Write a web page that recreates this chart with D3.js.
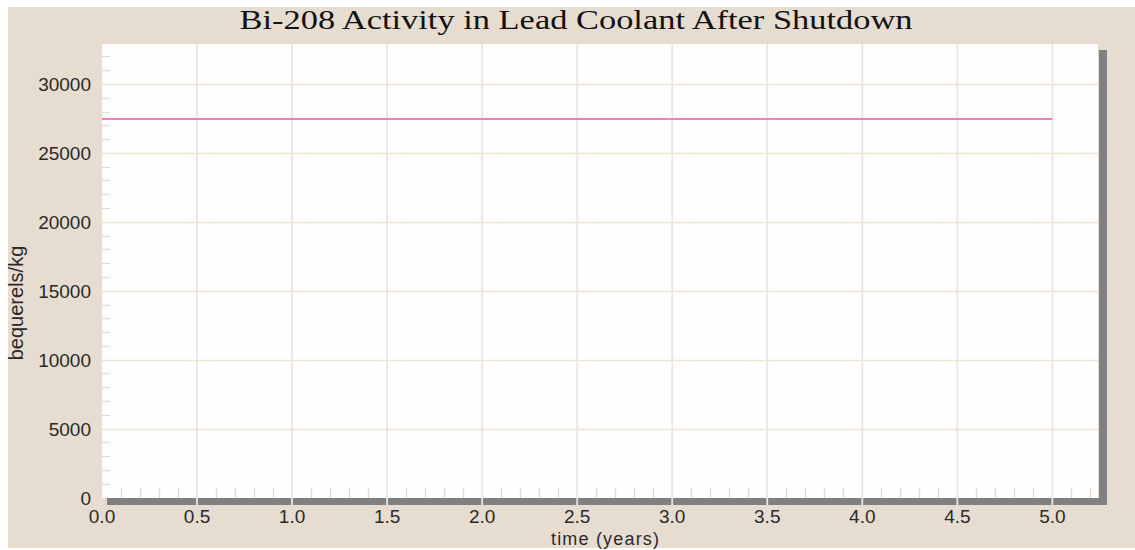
<!DOCTYPE html>
<html>
<head>
<meta charset="utf-8">
<script src="https://cdn.jsdelivr.net/npm/d3@7"></script>
<style>
  body { margin: 0; background: #ffffff; }
  svg { display: block; }
</style>
</head>
<body>
<div id="chart"></div>
<script>
// chart data
const chartTitle = "Bi-208 Activity in Lead Coolant After Shutdown";
const xLabel = "time (years)";
const yLabel = "bequerels/kg";
const timeYears = [0, 5.0];
const activity = [27450, 27450];
const xTicks = [0, 0.5, 1.0, 1.5, 2.0, 2.5, 3.0, 3.5, 4.0, 4.5, 5.0];
const yTicks = [0, 5000, 10000, 15000, 20000, 25000, 30000];

const W = 1135, H = 550;
const plot = { left: 102, top: 44, right: 1098, bottom: 498 };

const BG = "#e6ddd0";
const GRID = "#ede5da";
const SHADOW = "#808080";
const LINE = "#f080c0";

const svg = d3.select("#chart").append("svg")
    .attr("width", W)
    .attr("height", H);

// beige panel
svg.append("rect")
    .attr("x", 8).attr("y", 7)
    .attr("width", W - 8).attr("height", 541)
    .attr("fill", BG);

// scales
var x = d3.scaleLinear().domain([0, 5.24]).range([plot.left, plot.right]);
var y = d3.scaleLinear().domain([0, 32900]).range([497.5, plot.top]);

// drop shadow of plot area
svg.append("rect")
    .attr("x", plot.right + 1).attr("y", plot.top + 6)
    .attr("width", 8).attr("height", plot.bottom - plot.top + 1)
    .attr("fill", SHADOW);
svg.append("rect")
    .attr("x", plot.left + 5).attr("y", plot.bottom)
    .attr("width", plot.right - plot.left + 4).attr("height", 7)
    .attr("fill", SHADOW);

// plot area
svg.append("rect")
    .attr("x", plot.left).attr("y", plot.top)
    .attr("width", plot.right - plot.left).attr("height", plot.bottom - plot.top)
    .attr("fill", "#fefefe");

// grid lines
svg.append("g")
    .selectAll("line")
    .data(yTicks.filter(d => d > 0))
    .enter().append("line")
    .attr("x1", plot.left).attr("x2", plot.right)
    .attr("y1", d => Math.round(y(d)) + 0.5).attr("y2", d => Math.round(y(d)) + 0.5)
    .attr("stroke", GRID).attr("stroke-width", 1.6);

svg.append("g")
    .selectAll("line")
    .data(xTicks.filter(d => d > 0))
    .enter().append("line")
    .attr("x1", d => x(d)).attr("x2", d => x(d))
    .attr("y1", plot.top).attr("y2", plot.bottom + 7)
    .attr("stroke", GRID).attr("stroke-width", 1.8);

// minor ticks
const yMinor = d3.range(1000, 33000, 1000).filter(d => d % 5000 !== 0);
svg.append("g")
    .selectAll("line")
    .data(yMinor)
    .enter().append("line")
    .attr("x1", plot.left).attr("x2", plot.left + 8)
    .attr("y1", d => Math.round(y(d)) + 0.5).attr("y2", d => Math.round(y(d)) + 0.5)
    .attr("stroke", "#e2dad0").attr("stroke-width", 1.3);

const xMinor = d3.range(1, 53).map(d => d / 10).filter(d => Math.round(d * 10) % 5 !== 0);
svg.append("g")
    .selectAll("line")
    .data(xMinor)
    .enter().append("line")
    .attr("x1", d => Math.round(x(d)) + 0.5).attr("x2", d => Math.round(x(d)) + 0.5)
    .attr("y1", plot.bottom - 10).attr("y2", plot.bottom)
    .attr("stroke", "#e2dad0").attr("stroke-width", 1.3);

// the data line
var line = d3.line()
    .x(function (d) { return x(d[0]); })
    .y(function (d) { return y(d[1]); });

svg.append("path")
    .datum(d3.zip(timeYears, activity))
    .attr("fill", "none")
    .attr("stroke", LINE)
    .attr("stroke-width", 2)
    .attr("d", line);

// tick labels
const labelFont = "'Liberation Sans', Arial, sans-serif";

svg.append("g")
    .selectAll("text")
    .data(yTicks)
    .enter().append("text")
    .attr("x", 91)
    .attr("y", d => y(d) + 7)
    .attr("text-anchor", "end")
    .attr("font-family", labelFont)
    .attr("font-size", "19px")
    .attr("fill", "#2a2a2a")
    .text(d => d);

svg.append("g")
    .selectAll("text")
    .data(xTicks)
    .enter().append("text")
    .attr("x", d => x(d))
    .attr("y", 523)
    .attr("text-anchor", "middle")
    .attr("font-family", labelFont)
    .attr("font-size", "19px")
    .attr("fill", "#2a2a2a")
    .text(d => d.toFixed(1));

// axis titles
svg.append("text")
    .attr("x", 605).attr("y", 545)
    .attr("text-anchor", "middle")
    .attr("font-family", labelFont)
    .attr("font-size", "18px")
    .attr("textLength", 108)
    .attr("fill", "#2a2a2a")
    .text(xLabel);

svg.append("text")
    .attr("transform", "translate(23,303) rotate(-90)")
    .attr("text-anchor", "middle")
    .attr("font-family", labelFont)
    .attr("font-size", "20px")
    .attr("fill", "#2a2a2a")
    .text(yLabel);

// chart title
svg.append("text")
    .attr("x", 576).attr("y", 29)
    .attr("text-anchor", "middle")
    .attr("font-family", "'Liberation Serif', 'Times New Roman', serif")
    .attr("font-size", "27px")
    .attr("textLength", 673)
    .attr("lengthAdjust", "spacingAndGlyphs")
    .attr("fill", "#111")
    .text(chartTitle);
</script>
</body>
</html>
